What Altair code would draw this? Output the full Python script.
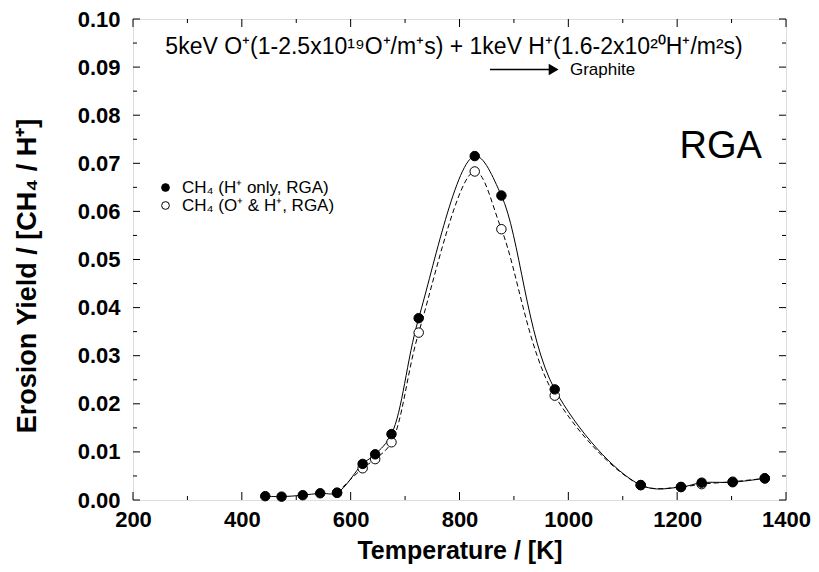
import altair as alt
import pandas as pd

# ---- data ----
T_filled = [443, 473, 512, 544, 575, 622, 645, 675, 725, 828, 877, 975, 1133, 1207, 1245, 1302, 1361]
Y_filled = [0.0008, 0.0007, 0.0010, 0.0014, 0.0015, 0.0075, 0.0095, 0.0137, 0.0378, 0.0715, 0.0633,
            0.0230, 0.0031, 0.0027, 0.0036, 0.0037, 0.0045]
T_open = [575, 622, 645, 675, 725, 828, 877, 975, 1133, 1207, 1245, 1302, 1361]
Y_open = [0.0015, 0.0066, 0.0085, 0.0120, 0.0348, 0.0683, 0.0563, 0.0217, 0.0031, 0.0027, 0.0033,
          0.0038, 0.0045]

LBL_FILLED = "CH₄ (H⁺ only, RGA)"
LBL_OPEN = "CH₄ (O⁺ & H⁺, RGA)"

x_major = [200, 400, 600, 800, 1000, 1200, 1400]
x_minor = [300, 500, 700, 900, 1100, 1300]
y_major = [0.00, 0.01, 0.02, 0.03, 0.04, 0.05, 0.06, 0.07, 0.08, 0.09, 0.10]
y_minor = [0.005, 0.015, 0.025, 0.035, 0.045, 0.055, 0.065, 0.075, 0.085, 0.095]

title_text = "5keV O⁺(1-2.5x10¹⁹O⁺/m⁺s) + 1keV H⁺(1.6-2x10²⁰H⁺/m²s)"
title_pos = (790, 0.0942)
graphite_text = "Graphite"
graphite_pos = (1003, 0.0895)
arrow_from, arrow_to, arrow_y = 856, 985, 0.0895
rga_text = "RGA"
rga_pos = (1280, 0.0733)

W, H = 653, 481
FONT = "Liberation Sans"

pts = pd.DataFrame(
    {"x": T_open + T_filled,
     "y": Y_open + Y_filled,
     "series": [LBL_OPEN] * len(T_open) + [LBL_FILLED] * len(T_filled),
     "ord": list(range(len(T_open) + len(T_filled)))}
)
df_f = pd.DataFrame({"x": T_filled, "y": Y_filled})
df_o = pd.DataFrame({"x": T_open, "y": Y_open})

xscale = alt.Scale(domain=[200, 1400], nice=False, zero=False)
yscale = alt.Scale(domain=[0, 0.1], nice=False, zero=False)

xenc = alt.X("x:Q", scale=xscale, axis=alt.Axis(
    values=x_major, format="d", ticks=False, domain=False, grid=False, labelFlush=False,
    labelFont=FONT, labelFontSize=22, labelFontWeight="bold", labelColor="black",
    labelPadding=9, title="Temperature / [K]", titleFont=FONT, titleFontSize=25,
    titleFontWeight="bold", titleColor="black", titleY=50, titleBaseline="middle"))
yenc = alt.Y("y:Q", scale=yscale, axis=alt.Axis(
    values=y_major, format=".2f", ticks=False, domain=False, grid=False,
    labelFont=FONT, labelFontSize=22, labelFontWeight="bold", labelColor="black",
    labelPadding=13, title="Erosion Yield / [CH₄ / H⁺]", titleFont=FONT, titleFontSize=27,
    titleFontWeight="bold", titleColor="black", titleX=-106, titleY=H / 2 + 16,
    titleAngle=-90, titleAlign="center", titleBaseline="middle"))

xplain = alt.X("x:Q", scale=xscale)
yplain = alt.Y("y:Q", scale=yscale)

solid = alt.Chart(df_f).mark_line(interpolate="catmull-rom", color="black", strokeWidth=1).encode(x=xenc, y=yenc)
dashed = alt.Chart(df_o).mark_line(interpolate="catmull-rom", color="black", strokeWidth=1,
                                   strokeDash=[5, 3]).encode(x=xplain, y=yplain)

points = alt.Chart(pts).mark_point(shape="circle", size=90, stroke="black", strokeWidth=1, opacity=1).encode(
    x=xplain, y=yplain,
    fill=alt.Fill("series:N", scale=alt.Scale(domain=[LBL_FILLED, LBL_OPEN], range=["black", "white"]),
                  legend=alt.Legend(title=None, orient="none", legendX=24, legendY=160,
                                    labelFont=FONT, labelFontSize=17, labelColor="black",
                                    symbolType="circle", symbolSize=60, symbolStrokeColor="black",
                                    symbolStrokeWidth=1, rowPadding=0, labelOffset=8, padding=0)),
    order=alt.Order("ord:Q"),
)

# ticks (inward, on all four sides)
tx_maj = pd.DataFrame({"x": x_major})
tx_min = pd.DataFrame({"x": x_minor})
ty_maj = pd.DataFrame({"y": y_major})
ty_min = pd.DataFrame({"y": y_minor})


def xticks(df, length):
    b = alt.Chart(df).mark_rule(color="black", strokeWidth=1).encode(
        x=xplain, y=alt.value(H), y2=alt.value(H - length))
    t = alt.Chart(df).mark_rule(color="black", strokeWidth=1).encode(
        x=xplain, y=alt.value(0), y2=alt.value(length))
    return b + t


def yticks(df, length):
    l = alt.Chart(df).mark_rule(color="black", strokeWidth=1).encode(
        y=yplain, x=alt.value(0), x2=alt.value(length))
    r = alt.Chart(df).mark_rule(color="black", strokeWidth=1).encode(
        y=yplain, x=alt.value(W), x2=alt.value(W - length))
    return l + r


ticks = xticks(tx_maj, 8) + xticks(tx_min, 4) + yticks(ty_maj, 7) + yticks(ty_min, 4)

ann = pd.DataFrame({"x": [title_pos[0]], "y": [title_pos[1]], "t": [title_text]})
title_mark = alt.Chart(ann).mark_text(font=FONT, fontSize=23, color="black", align="center",
                                      baseline="middle").encode(x=xplain, y=yplain, text="t:N")
gr = pd.DataFrame({"x": [graphite_pos[0]], "y": [graphite_pos[1]], "t": [graphite_text]})
gr_mark = alt.Chart(gr).mark_text(font=FONT, fontSize=17, color="black", align="left",
                                  baseline="middle").encode(x=xplain, y=yplain, text="t:N")
rg = pd.DataFrame({"x": [rga_pos[0]], "y": [rga_pos[1]], "t": [rga_text]})
rg_mark = alt.Chart(rg).mark_text(font=FONT, fontSize=38, color="black", align="center",
                                  baseline="middle").encode(x=xplain, y=yplain, text="t:N")

arr = pd.DataFrame({"x": [arrow_from], "x2": [arrow_to - 8], "y": [arrow_y]})
arrow_line = alt.Chart(arr).mark_rule(color="black", strokeWidth=1.5).encode(
    x=xplain, x2="x2:Q", y=yplain)
head = pd.DataFrame({"x": [arrow_to - 12], "y": [arrow_y]})
arrow_head = alt.Chart(head).mark_point(shape="triangle-right", size=130, filled=True, color="black",
                                        opacity=1).encode(x=xplain, y=yplain)

chart = alt.layer(
    solid, dashed, points, ticks, title_mark, gr_mark, rg_mark, arrow_line, arrow_head
).properties(
    width=W, height=H,
    autosize=alt.AutoSizeParams(type="none"),
    padding={"left": 125, "top": 11, "right": 25, "bottom": 64},
).configure_view(stroke="black", strokeWidth=1.5).configure(background="white")

chart.save("out.html", embed_options={"renderer": "svg", "actions": False})
